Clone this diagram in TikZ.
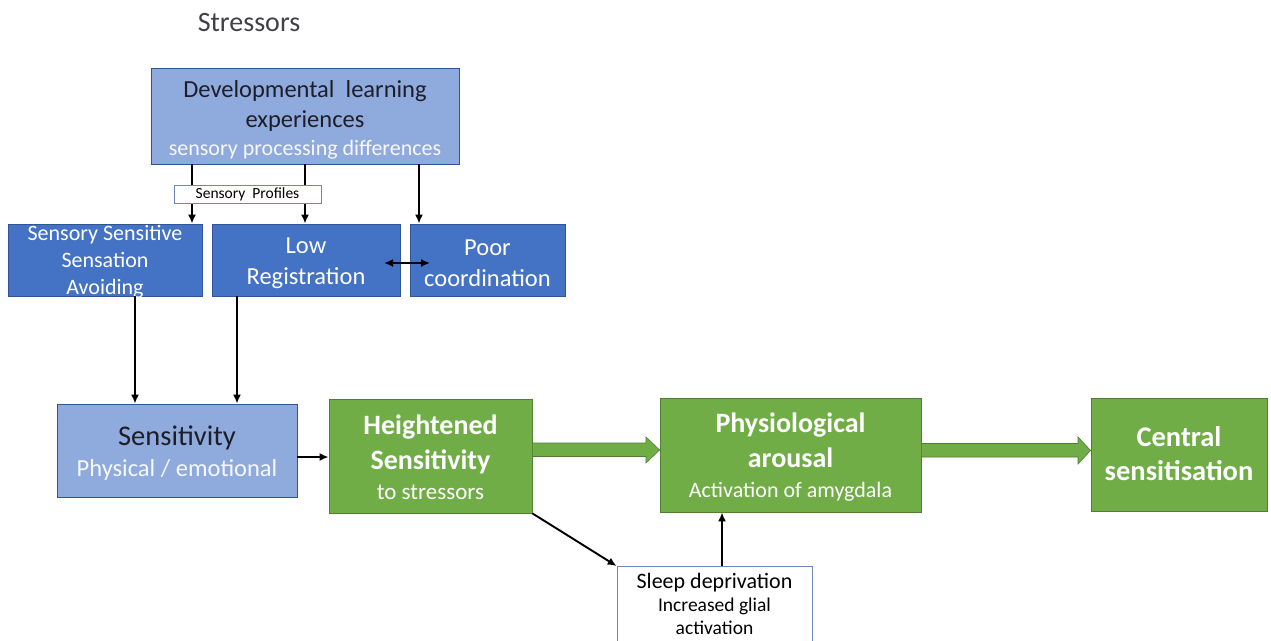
\documentclass[tikz,border=0pt]{standalone}
\usepackage{fontspec}
\setmainfont{Carlito}
\usetikzlibrary{arrows.meta,calc}
\definecolor{lblue}{HTML}{8FAADC}
\definecolor{mblue}{HTML}{4472C4}
\definecolor{bedge}{HTML}{2F5597}
\definecolor{gfill}{HTML}{70AD47}
\definecolor{gedge}{HTML}{507E32}
\definecolor{ink}{HTML}{1E1E28}
\newcommand{\fs}[2]{\fontsize{#1}{#2}\selectfont}
\begin{document}
\begin{tikzpicture}[x=1pt,y=-1pt,
  base/.style={draw, line width=0.8pt, inner sep=0pt, align=center},
  lbbox/.style={base, draw=bedge, fill=lblue},
  mbbox/.style={base, draw=bedge, fill=mblue, text=white},
  gbox/.style={base, draw=gedge, fill=gfill, text=white},
  wbox/.style={base, draw=bedge!70, fill=white, text=black},
  label/.style={inner sep=0pt, align=center},
  conn/.style={-{Latex[length=9pt,width=8pt]}, line width=1.9pt, black},
  fatarrow/.style={draw=gedge, fill=gfill, line width=0.6pt}
]
\useasboundingbox (0,0) rectangle (1271,640);

% title
\node[text=ink!85, font=\fs{28}{32}] (title) at (249,23) {Stressors};

% top row
\node[lbbox, minimum width=308, minimum height=96] (dev) at (305,116) {};
\node[label, text=ink, font=\fs{24.5}{30}] (devtext) at (305,119.5)
  {Developmental\ \ learning\\ experiences\\[-2pt] \fs{22}{26}\color{white!92!lblue}sensory processing differences};

\node[mbbox, minimum width=194, minimum height=72] (sss) at (105,260) {};
\node[label, text=white, font=\fs{22}{27}] (ssstext) at (105,262)
  {Sensory Sensitive\\ Sensation\\ Avoiding};
\node[mbbox, minimum width=188, minimum height=72] (low) at (306,260) {};
\node[label, text=white, font=\fs{24.5}{31}] (lowtext) at (306,263)
  {Low\\ Registration};
\node[mbbox, minimum width=155, minimum height=72] (poor) at (487.5,260) {};
\node[label, text=white, font=\fs{24.5}{31}] (poortext) at (487.5,263)
  {Poor\\ coordination};

% links from the top box
\draw[conn] (dev.south -| 192,0) -- (sss.north -| 192,0);
\draw[conn] (dev.south -| 305,0) -- (low.north -| 305,0);
\draw[conn] (dev.south -| 419,0) -- (poor.north -| 419,0);
\node[wbox, minimum width=147, minimum height=18, font=\fs{15.5}{17}] (prof) at (247.5,194) {Sensory\ \ Profiles};

\coordinate (dl) at (384,263);
\coordinate (dr) at (430,263);
\draw[{Latex[length=9pt,width=8pt]}-{Latex[length=9pt,width=8pt]}, line width=1.9pt] (dl) -- (dr);

% middle row
\node[lbbox, minimum width=240, minimum height=93] (sens) at (177,450.5) {};
\node[label, text=ink, font=\fs{28.5}{31}] (senstext) at (177,453)
  {Sensitivity\\ \fs{24.5}{28}\color{white!92!lblue}Physical / emotional};
\node[gbox, minimum width=203, minimum height=114] (hs) at (430.5,456) {};
\node[label, text=white, font=\bfseries\fs{28}{35}] (hstext) at (430.5,457)
  {Heightened\\ Sensitivity\\[-5pt] \mdseries\fs{23}{28}to stressors};
\node[gbox, minimum width=261, minimum height=114] (pa) at (790.5,455) {};
\node[label, text=white, font=\bfseries\fs{28}{35}] (patext) at (790.5,457.5)
  {Physiological\\ arousal\\[-5pt] \mdseries\fs{22}{28}Activation of amygdala};
\node[gbox, minimum width=176, minimum height=113] (cs) at (1179,454.5) {};
\node[label, text=white, font=\bfseries\fs{28.5}{34}] (cstext) at (1179,453.5)
  {Central\\ sensitisation};
\node[wbox, minimum width=195, minimum height=90, anchor=north] (sleep) at (714.5,566) {};
\node[label, text=black, font=\fs{22}{26}] (sleeptext) at (714.5,604)
  {Sleep deprivation\\[-3pt] \fs{19.5}{23}Increased glial\\[-3pt] \fs{19.5}{23}activation};

\draw[conn] (sss.south -| 135,0) -- (sens.north -| 135,0);
\draw[conn] (low.south -| 237,0) -- (sens.north -| 237,0);
\draw[conn] (sens.east |- 0,457) -- (hs.west |- 0,457);
\draw[conn] (hs.south east) -- (sleep.north west);
\draw[conn] (sleep.north -| 722,0) -- (pa.south -| 722,0);

% broad arrows between the green boxes
\draw[fatarrow] (hs.east |- 0,443) -- (646,443) -- (646,437) -- (pa.west |- 0,450)
  -- (646,463) -- (646,456.5) -- (hs.east |- 0,456.5) -- cycle;
\draw[fatarrow] (pa.east |- 0,443.5) -- (1078,443.5) -- (1078,437) -- (cs.west |- 0,450.5)
  -- (1078,464) -- (1078,457) -- (pa.east |- 0,457) -- cycle;
\end{tikzpicture}
\end{document}
